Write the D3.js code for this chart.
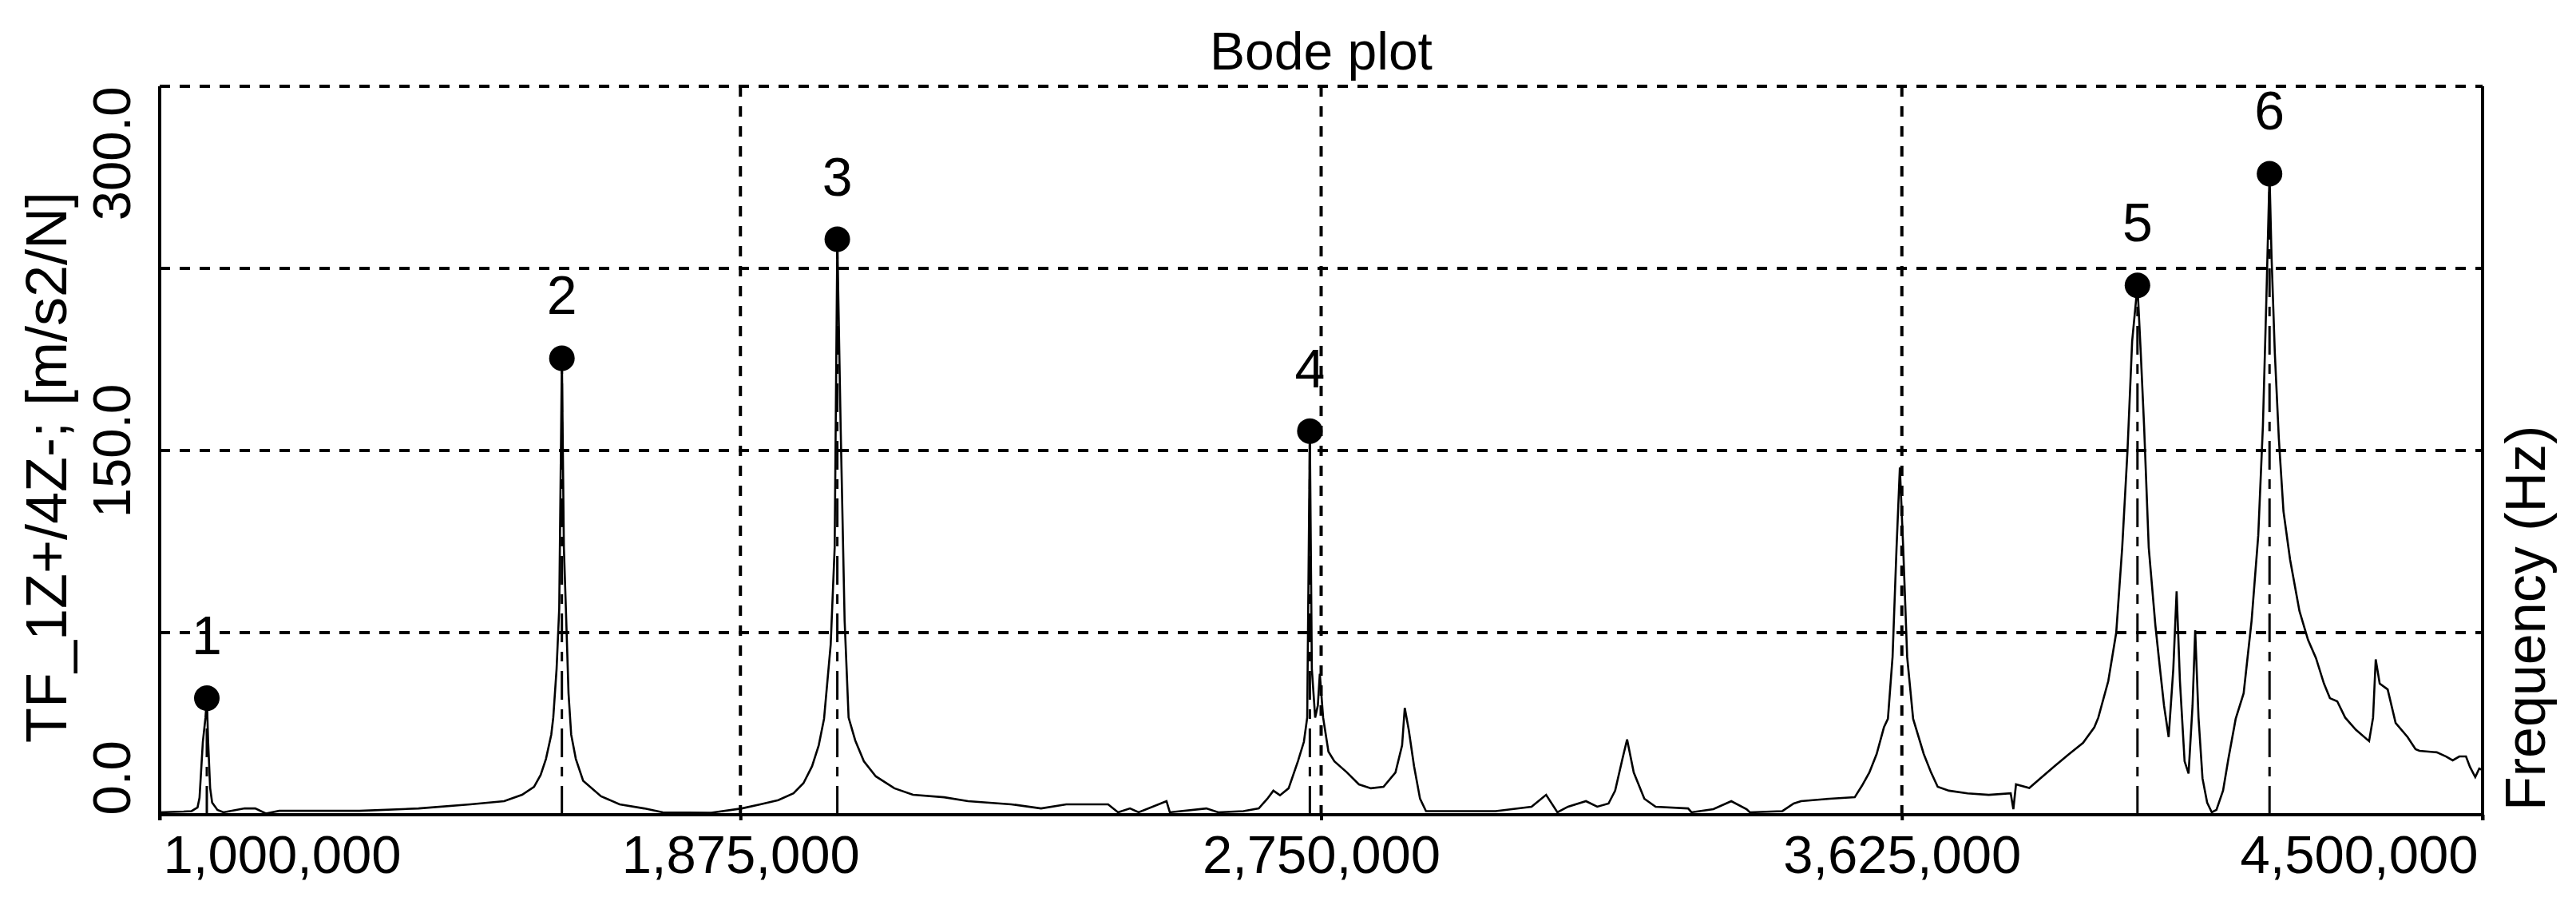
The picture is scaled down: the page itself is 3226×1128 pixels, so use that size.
<!DOCTYPE html>
<html>
<head>
<meta charset="utf-8">
<script src="https://cdn.jsdelivr.net/npm/d3@7"></script>
<style>
  html, body { margin: 0; padding: 0; background: #fff; }
  svg { display: block; }
  text { font-family: "Liberation Sans", Arial, sans-serif; fill: #000; }
</style>
</head>
<body>
<script>
// ---------------- data ----------------
const chartTitle = "Bode plot";
const yTitle = "TF_1Z+/4Z-; [m/s2/N]";
const xTitle = "Frequency (Hz)";

const xTicks = [1000000, 1875000, 2750000, 3625000, 4500000];
const yTicks = [0, 150, 300];
const yGrid = [75, 150, 225, 300];

// frequency (Hz)
const freq = [
  1000000, 1036000, 1048000, 1057000, 1060000, 1065000, 1069000, 1071000, 1073000, 1076000,
  1079000, 1087000, 1096000, 1128000, 1144000, 1160000, 1180000, 1301000, 1390000, 1468000,
  1519000, 1546000, 1564000, 1574000, 1582000, 1590000, 1593000, 1598000, 1602000, 1606000,
  1609000, 1612000, 1616000, 1620000, 1627000, 1638000, 1665000, 1693000, 1730000, 1758000,
  1831000, 1877000, 1905000, 1932000, 1955000, 1970000, 1983000, 1993000, 2001000, 2011000,
  2017000, 2021000, 2026000, 2032000, 2038000, 2048000, 2061000, 2079000, 2107000, 2135000,
  2182000, 2218000, 2283000, 2328000, 2366000, 2429000, 2444000, 2462000, 2475000, 2517000,
  2522000, 2577000, 2595000, 2633000, 2656000, 2669000, 2678000, 2688000, 2701000, 2715000,
  2724000, 2729000, 2733000, 2736000, 2741000, 2745000, 2748000, 2753000, 2761000, 2770000,
  2789000, 2807000, 2825000, 2844000, 2862000, 2872000, 2876000, 2882000, 2890000, 2899000,
  2908000, 3013000, 3067000, 3089000, 3106000, 3122000, 3149000, 3166000, 3183000, 3193000,
  3204000, 3211000, 3221000, 3237000, 3254000, 3303000, 3308000, 3341000, 3368000, 3391000,
  3396000, 3445000, 3462000, 3473000, 3516000, 3554000, 3565000, 3576000, 3587000, 3598000,
  3604000, 3611000, 3617000, 3622000, 3627000, 3633000, 3642000, 3658000, 3669000, 3679000,
  3696000, 3724000, 3756000, 3789000, 3793000, 3797000, 3817000, 3833000, 3855000, 3877000,
  3898000, 3915000, 3921000, 3936000, 3948000, 3957000, 3965000, 3972000, 3980000, 3985000,
  3990000, 3997000, 4007000, 4014000, 4020000, 4027000, 4034000, 4039000, 4044000, 4051000,
  4057000, 4063000, 4067000, 4072000, 4078000, 4085000, 4092000, 4099000, 4109000, 4117000,
  4128000, 4140000, 4152000, 4162000, 4169000, 4174000, 4179000, 4182000, 4187000, 4193000,
  4200000, 4210000, 4224000, 4237000, 4249000, 4261000, 4270000, 4281000, 4293000, 4309000,
  4329000, 4335000, 4339000, 4345000, 4357000, 4369000, 4387000, 4399000, 4405000, 4431000,
  4445000, 4455000, 4465000, 4475000, 4481000, 4489000, 4495000, 4500000
];
// magnitude (m/s2/N)
const mag = [
  1.0, 1.3, 1.5, 3, 7, 30, 40, 48, 30, 11,
  5, 2, 1, 2.6, 2.6, 0.5, 1.6, 1.6, 2.6, 4.3,
  5.6, 8.2, 11.5, 16.4, 23, 33, 40, 60, 85, 188,
  110, 85, 50, 33, 23, 14, 7.6, 4.3, 2.6, 1,
  0.8, 2.6, 4.3, 6, 8.8, 13, 20, 28.6, 39.5, 70,
  110, 237, 160, 80, 40, 30.6, 22, 15.8, 10.9, 8.2,
  7.2, 5.6, 4.3, 2.6, 4.3, 4.3, 1, 2.6, 1, 5.6,
  1, 2.6, 1, 1.5, 2.6, 6.6, 9.9, 8, 10.9, 22,
  30, 40, 158, 60, 40, 45, 58, 40, 26, 22,
  17.4, 12.5, 10.9, 11.5, 17.4, 28.6, 44, 35, 20, 6.6,
  1.5, 1.5, 3.3, 8.2, 1, 3.3, 5.6, 3.3, 4.6, 9.9,
  23, 31, 17.4, 6.6, 3.3, 2.6, 1, 2.3, 5.6, 2.3,
  1, 1.5, 4.6, 5.6, 6.6, 7.2, 12, 17.4, 25, 36,
  39.5, 65, 110, 143, 110, 65, 39.5, 25, 17.4, 11.5,
  9.9, 8.8, 8.2, 8.8, 2.3, 12.5, 11, 14.8, 20, 25,
  29.6, 36, 40, 55, 75, 110, 150, 195, 218, 190,
  160, 110, 78, 60, 45, 32, 60, 92, 55, 22,
  17, 45, 76, 40, 15, 5, 1, 2, 10, 23,
  39.5, 50, 80, 115, 160, 210, 264, 230, 190, 155,
  125, 105, 84, 72, 64.5, 54, 48, 46.7, 40, 35,
  30.3, 40, 64, 54, 51.6, 37.8, 32, 27, 26.3, 25.7,
  24, 22.4, 24, 24, 19.7, 15.5, 19, 18.4
];

// marked peaks
const peakLabels = ["1", "2", "3", "4", "5", "6"];
const peakFreq = [1071000, 1606000, 2021000, 2733000, 3980000, 4179000];
const peakMag = [48, 188, 237, 158, 218, 264];

// ---------------- chart ----------------
const W = 3226, H = 1128;
const mLeft = 200, mRight = 3109, mTop = 108, mBottom = 1020;

const svg = d3.select("body").append("svg").attr("width", W).attr("height", H);

const x = d3.scaleLinear().domain([1000000, 4500000]).range([mLeft, mRight]);
const y = d3.scaleLinear().domain([0, 300]).range([mBottom, mTop]);

// grid
const grid = svg.append("g").attr("stroke", "#000").attr("stroke-width", 4)
  .attr("stroke-dasharray", "13,12").attr("fill", "none");
grid.selectAll("line.h").data(yGrid).join("line").attr("class", "h")
  .attr("x1", mLeft).attr("x2", mRight).attr("y1", d => y(d)).attr("y2", d => y(d));
grid.selectAll("line.v").data(xTicks.slice(1, -1)).join("line").attr("class", "v")
  .attr("x1", d => x(d)).attr("x2", d => x(d)).attr("y1", mTop).attr("y2", mBottom);

// curve
const pts = freq.map((f, i) => [f, mag[i]]);
svg.append("path").datum(pts)
  .attr("fill", "none").attr("stroke", "#000").attr("stroke-width", 2.6)
  .attr("stroke-linejoin", "miter")
  .attr("d", d3.line().x(d => x(d[0])).y(d => y(d[1])));

// drop lines for peaks
const peaks = peakFreq.map((f, i) => ({ f, v: peakMag[i], label: peakLabels[i] }));
svg.append("g").selectAll("line").data(peaks).join("line")
  .attr("x1", d => x(d.f)).attr("x2", d => x(d.f))
  .attr("y1", mBottom).attr("y2", d => y(d.v))
  .attr("stroke", "#000").attr("stroke-width", 3)
  .attr("stroke-dasharray", "36,12,12,12");

// markers
svg.append("g").selectAll("circle").data(peaks).join("circle")
  .attr("cx", d => x(d.f)).attr("cy", d => y(d.v)).attr("r", 16).attr("fill", "#000");
svg.append("g").selectAll("text").data(peaks).join("text")
  .attr("x", d => x(d.f)).attr("y", d => y(d.v) - 55)
  .attr("text-anchor", "middle").attr("font-size", 68).text(d => d.label);

// x axis
const xAxis = d3.axisBottom(x).tickValues(xTicks).tickFormat(d3.format(",")).tickSize(7).tickPadding(0);
const gx = svg.append("g").attr("transform", `translate(0,${mBottom})`).call(xAxis);
gx.select(".domain").attr("stroke", "#000").attr("stroke-width", 4)
  .attr("d", `M${mLeft},0H${mRight}`);
gx.selectAll(".tick line").attr("stroke", "#000").attr("stroke-width", 4);
gx.selectAll(".tick text")
  .attr("font-size", 67).attr("font-family", "Liberation Sans, Arial, sans-serif")
  .attr("fill", "#000").attr("dy", null).attr("y", 73)
  .attr("text-anchor", (d, i) => i === 0 ? "start" : (i === xTicks.length - 1 ? "end" : "middle"))
  .attr("dx", (d, i) => i === 0 ? 4 : (i === xTicks.length - 1 ? -6 : 0));

// y axis
const yAxis = d3.axisLeft(y).tickValues(yTicks).tickFormat(d3.format(".1f")).tickSize(0).tickPadding(0);
const gy = svg.append("g").attr("transform", `translate(${mLeft},0)`).call(yAxis);
gy.select(".domain").attr("stroke", "#000").attr("stroke-width", 4)
  .attr("d", `M0,${mTop}V${mBottom + 7}`);
gy.selectAll(".tick text")
  .attr("font-size", 67).attr("font-family", "Liberation Sans, Arial, sans-serif")
  .attr("fill", "#000").attr("x", null).attr("dy", null)
  .attr("transform", "translate(-37,0) rotate(-90)")
  .attr("text-anchor", (d, i) => i === 0 ? "start" : (i === yTicks.length - 1 ? "end" : "middle"));

// right frame line
svg.append("line").attr("x1", mRight).attr("x2", mRight).attr("y1", mTop).attr("y2", mBottom + 7)
  .attr("stroke", "#000").attr("stroke-width", 4);

// titles
svg.append("text").attr("x", (mLeft + mRight) / 2).attr("y", 87)
  .attr("text-anchor", "middle").attr("font-size", 66).text(chartTitle);
svg.append("text").attr("transform", `translate(83,585) rotate(-90)`)
  .attr("text-anchor", "middle").attr("font-size", 72).text(yTitle);
svg.append("text").attr("transform", `translate(3187,1015) rotate(-90)`)
  .attr("text-anchor", "start").attr("font-size", 70).text(xTitle);
</script>
</body>
</html>
